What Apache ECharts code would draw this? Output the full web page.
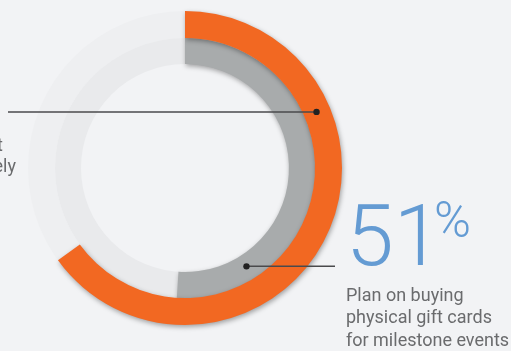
<!DOCTYPE html>
<html>
<head>
<meta charset="utf-8">
<style>
html,body{margin:0;padding:0;background:#f2f3f5;}
#c{width:511px;height:351px;}
</style>
<script src="https://cdn.jsdelivr.net/npm/echarts@6/dist/echarts.min.js"></script>
</head>
<body>
<div id="c"></div>
<script>
var categories = ['Physical gift cards (likely)', 'Physical gift cards for milestone events'];
var outerValues = [65, 35];
var innerValues = [51, 49];
var headline = '51';
var headlineUnit = '%';
var rightLabel = ['Plan on buying', 'physical gift cards', 'for milestone events'];
var leftLabel = ['t', 'ely'];

var cx = 185, cy = 168;
var chart = echarts.init(document.getElementById('c'), null, {renderer: 'canvas'});

function polar(r, deg) {
  var a = deg * Math.PI / 180;
  return [cx + r * Math.sin(a), cy - r * Math.cos(a)];
}
var d1 = polar(143, 66.9);
var d2 = polar(116, 148);

var shadow = {shadowBlur: 5, shadowColor: 'rgba(0,0,0,0.35)', shadowOffsetX: 1, shadowOffsetY: 2};
var txt = '#6a6b6d';

chart.setOption({
  backgroundColor: '#f2f3f5',
  animation: false,
  series: [
    {type: 'pie', silent: true, center: [cx, cy], radius: [130, 157], label: {show: false},
     itemStyle: {color: '#eeeff1'}, data: [{value: 1}]},
    {type: 'pie', silent: true, center: [cx, cy], radius: [104, 130], label: {show: false},
     itemStyle: {color: '#e9eaec'}, data: [{value: 1}]},
    {type: 'pie', silent: true, center: [cx, cy], radius: [104, 130], startAngle: 90, clockwise: true,
     label: {show: false}, labelLine: {show: false},
     data: [
       {name: categories[1], value: innerValues[0], itemStyle: Object.assign({color: '#a8abac'}, shadow)},
       {name: 'rest', value: innerValues[1], itemStyle: {color: 'rgba(0,0,0,0)'}}
     ]},
    {type: 'pie', silent: true, center: [cx, cy], radius: [130, 157], startAngle: 90, clockwise: true,
     label: {show: false}, labelLine: {show: false},
     data: [
       {name: categories[0], value: outerValues[0], itemStyle: Object.assign({color: '#f26822'}, shadow)},
       {name: 'rest', value: outerValues[1], itemStyle: {color: 'rgba(0,0,0,0)'}}
     ]}
  ],
  graphic: [
    {type: 'line', z: 100, shape: {x1: 8, y1: d1[1], x2: d1[0], y2: d1[1]}, style: {stroke: '#4a4a4c', lineWidth: 1.5}},
    {type: 'circle', z: 100, shape: {cx: d1[0], cy: d1[1], r: 3.2}, style: {fill: '#222'}},
    {type: 'line', z: 100, shape: {x1: d2[0], y1: d2[1], x2: 335, y2: d2[1]}, style: {stroke: '#4a4a4c', lineWidth: 1.5}},
    {type: 'circle', z: 100, shape: {cx: d2[0], cy: d2[1], r: 3.2}, style: {fill: '#222'}},
    {type: 'text', z: 100, style: {x: 346, y: 200, text: headline, fill: '#649bd3', font: '300 86px Roboto', verticalAlign: 'top'}},
    {type: 'text', z: 100, style: {x: 434, y: 199, text: headlineUnit, fill: '#649bd3', font: '300 50px Roboto', verticalAlign: 'top'}},
    {type: 'text', z: 100, style: {x: 346, y: 287, text: rightLabel[0], fill: txt, font: '18px Roboto', verticalAlign: 'top'}},
    {type: 'text', z: 100, style: {x: 346, y: 309.5, text: rightLabel[1], fill: txt, font: '18px Roboto', verticalAlign: 'top'}},
    {type: 'text', z: 100, style: {x: 346, y: 332, text: rightLabel[2], fill: txt, font: '18px Roboto', verticalAlign: 'top'}},
    {type: 'text', z: 100, style: {x: 3, y: 137, text: leftLabel[0], fill: txt, font: '18px Roboto', align: 'right', verticalAlign: 'top'}},
    {type: 'text', z: 100, style: {x: 16, y: 158, text: leftLabel[1], fill: txt, font: '18px Roboto', align: 'right', verticalAlign: 'top'}}
  ]
});
</script>
</body>
</html>
